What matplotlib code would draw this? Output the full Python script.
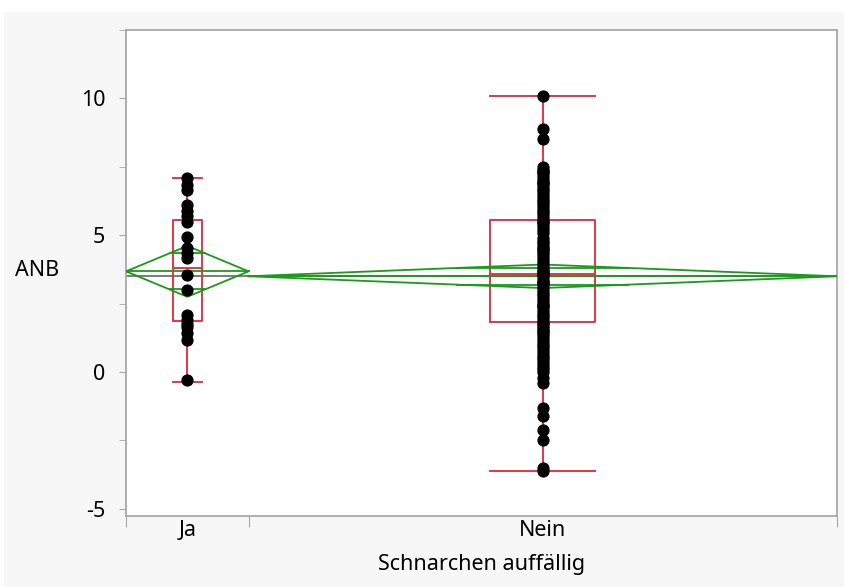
import numpy as np
import matplotlib.pyplot as plt
from matplotlib.patches import Rectangle

plt.rcParams['font.family'] = ['Noto Sans', 'DejaVu Sans']
plt.rcParams['axes.unicode_minus'] = False

# data
groups = ["Ja", "Nein"]
anb_ja = [7.1, 6.85, 6.65, 6.1, 5.9, 5.72, 5.5, 4.93, 4.52, 4.34,
          4.16, 3.54, 3.0, 2.08, 1.9, 1.75, 1.64, 1.42, 1.17, -0.3]
anb_nein = [10.1, 8.9, 8.5,
            7.5, 7.4, 7.3, 7.2, 7.1, 7.0, 6.9, 6.8, 6.7, 6.6,
            6.5, 6.4, 6.3, 6.2, 6.1, 6.0, 5.9, 5.8, 5.7, 5.6,
            5.5, 5.4, 5.3, 5.2, 5.1, 4.9, 4.8, 4.7, 4.6, 4.5,
            4.4, 4.3, 4.2, 4.1, 4.0, 3.9, 3.8, 3.7, 3.6, 3.6,
            3.5, 3.4, 3.3, 3.2, 3.1, 3.0, 2.9, 2.8, 2.7, 2.6,
            2.5, 2.4, 2.3, 2.2, 2.1, 2.0, 1.9, 1.8, 1.8, 1.7,
            1.6, 1.5, 1.4, 1.3, 1.2, 1.1, 1.0, 0.9, 0.8, 0.7,
            0.6, 0.5, 0.4, 0.3, 0.2, 0.1, 0.0, -0.2, -0.4, -1.3,
            -1.6, -2.1, -2.5, -3.5, -3.6,
            7.3, 6.9, 5.5, 4.5, 3.7, 3.3, 2.4, 1.5]
# box plot summaries (quantiles as shown)
q1 = [1.86, 1.82]
med = [3.80, 3.58]
q3 = [5.55, 5.55]
whis_lo = [-0.36, -3.6]
whis_hi = [7.08, 10.1]
# means diamonds
means = [3.68, 3.50]
ci = [0.93, 0.43]
grand_mean = 3.50

red = '#e8334b'
green = '#1a9a1a'
gray = '#a8a8a8'

fig = plt.figure(figsize=(8.44, 5.87), dpi=100)
fig.patch.set_facecolor('white')
fig.patches.append(Rectangle((4/844, 0), 1, 1 - 12/587, transform=fig.transFigure,
                             facecolor='#f7f7f7', edgecolor='none', zorder=-10))
ax = fig.add_axes([126/844, 71/587, 711/844, 486/587])
ax.set_facecolor('white')

# widths of the groups follow the counts
counts = np.array([len(anb_ja), len(anb_nein)])
edges = np.concatenate([[0], np.cumsum(counts)])
centers = (edges[:-1] + edges[1:]) / 2
box_w = [4.7, 17.1]

ax.axhline(grand_mean, color='#707070', lw=1.3, zorder=1)

stats = []
for i in range(2):
    stats.append(dict(q1=q1[i], med=med[i], q3=q3[i],
                      whislo=whis_lo[i], whishi=whis_hi[i], fliers=[]))
ax.bxp(stats, positions=centers, widths=box_w, capwidths=box_w, showfliers=False,
       boxprops=dict(color=red, lw=1.4), medianprops=dict(color=red, lw=1.4),
       whiskerprops=dict(color=red, lw=1.4), capprops=dict(color=red, lw=1.4),
       manage_ticks=False, zorder=2)

for i in range(2):
    x0, x1, xc = edges[i], edges[i+1], centers[i]
    m, c = means[i], ci[i]
    ax.plot([x0, xc, x1, xc, x0], [m, m + c, m, m - c, m], color=green, lw=1.3, zorder=3)
    ax.plot([x0, x1], [m, m], color=green, lw=1.3, zorder=3)
    half = 0.29 * (x1 - x0) / 2
    off = c / np.sqrt(2)
    ax.plot([xc - half, xc + half], [m + off, m + off], color=green, lw=1.3, zorder=3)
    ax.plot([xc - half, xc + half], [m - off, m - off], color=green, lw=1.3, zorder=3)

for i, vals in enumerate([anb_ja, anb_nein]):
    ax.plot(np.full(len(vals), centers[i]), vals, 'o', color='black', ms=7.8, zorder=4)

ax.set_xlim(edges[0], edges[-1])
ax.set_ylim(-5.26, 12.48)
ax.set_yticks([-5, 0, 5, 10])
ax.set_yticks([-2.5, 2.5, 7.5, 12.5], minor=True)
ax.set_xticks(edges)
ax.set_xticklabels([])
ax.set_xticks(centers, minor=True)
ax.set_xticklabels(groups, minor=True)
ax.tick_params(axis='y', which='both', direction='out', length=5, color=gray,
               labelsize=15.5, pad=10)
ax.tick_params(axis='x', which='major', direction='out', length=8, color=gray)
ax.tick_params(axis='x', which='minor', length=0, labelsize=15.5, pad=3)
for s in ax.spines.values():
    s.set_color(gray)
    s.set_linewidth(1.3)

ax.set_xlabel('Schnarchen auffällig', fontsize=15.5, labelpad=9)
ax.set_ylabel('ANB', fontsize=15.5, rotation=0, ha='center', va='center')
ax.yaxis.set_label_coords(-89/711, (516 - 270) / 486)

fig.savefig('out.png', dpi=100, facecolor=fig.get_facecolor())
